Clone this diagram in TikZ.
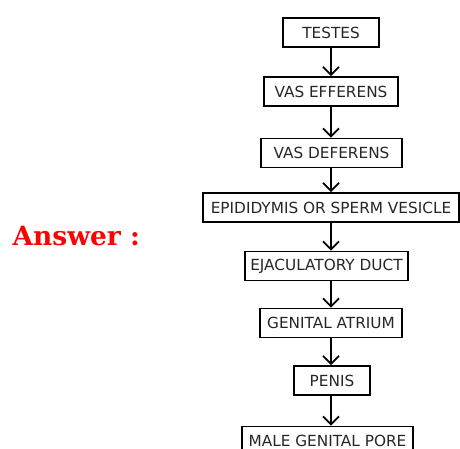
\documentclass[tikz,border=0pt]{standalone}
\usepackage{fontspec}
\setmainfont{DejaVu Sans}
\newfontfamily\answerfont{DejaVu Serif}
\usetikzlibrary{arrows.meta}
\usetikzlibrary{positioning}

\tikzset{
  stage/.style={draw, line width=1.8pt, minimum height=29pt, inner sep=0pt,
    text=black!85, font=\fontsize{15.3}{18}\selectfont},
  flow/.style={line width=1.8pt,
    -{Straight Barb[length=8pt,width=16pt,line width=1.8pt]}}
}

\begin{document}
\begin{tikzpicture}[x=1pt,y=-1pt]
    \useasboundingbox (0,0) rectangle (460,449);

    \node[stage, minimum width=96pt] (testes) at (331,32.5) {TESTES};
    \node[stage, minimum width=134pt] (efferens) at (331,91.5) {VAS EFFERENS};
    \node[stage, minimum width=141pt] (deferens) at (331.5,153) {VAS DEFERENS};
    \node[stage, minimum width=256pt] (epididymis) at (331,207.5) {EPIDIDYMIS OR SPERM VESICLE};
    \node[stage, minimum width=163pt] (duct) at (326.5,266) {EJACULATORY DUCT};
    \node[stage, minimum width=142pt] (atrium) at (331,323) {GENITAL ATRIUM};
    \node[stage, minimum width=76pt] (penis) at (332,380.5) {PENIS};
    \node[stage, minimum width=171pt] (pore) at (327.5,441) {MALE GENITAL PORE};

    \node[text=red, anchor=west, font=\answerfont\bfseries\fontsize{26.5}{31}\selectfont]
      (answer) at (9,236) {Answer :};

    \foreach \a/\b in {testes/efferens, efferens/deferens, deferens/epididymis,
      epididymis/duct, duct/atrium, atrium/penis, penis/pore}
    \draw[flow] (\a.south -| testes) -- (\b.north -| testes);
\end{tikzpicture}
\end{document}
